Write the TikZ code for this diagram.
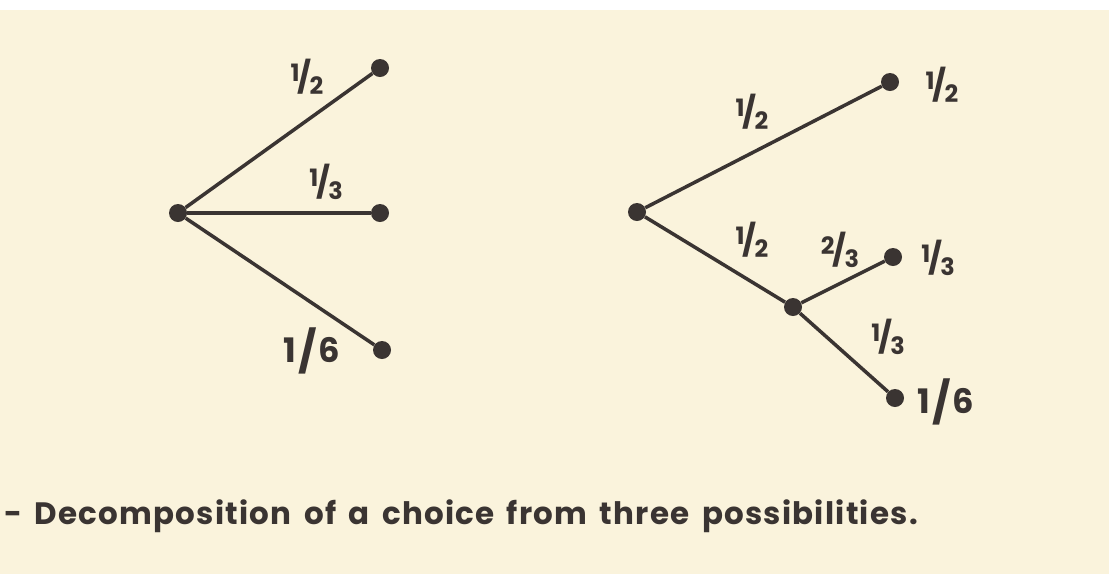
\documentclass[tikz,border=0pt]{standalone}
\usepackage{fontspec}
\setmainfont{Poppins}
\newfontfamily\capfont[LetterSpace=4,WordSpace=1.6]{Poppins}
\definecolor{paper}{RGB}{250,243,220}
\definecolor{ink}{RGB}{58,52,50}
\newcommand{\frc}[2]{\raisebox{0.4ex}{\fontsize{17}{17}\selectfont#1}\kern-0.06em{\fontsize{22}{22}\selectfont/}\kern-0.06em\raisebox{-0.3ex}{\fontsize{17}{17}\selectfont#2}}
\newcommand{\sixth}{1\kern1.5pt\raisebox{-0.2ex}{\fontsize{29}{29}\selectfont/}\kern1.5pt6}
\tikzset{
  dot/.style={circle,fill=ink,inner sep=0pt,minimum size=0.45cm},
  branch/.style={ink,line width=2.5pt},
  prob/.style={text=ink,font=\bfseries\fontsize{24}{24}\selectfont,inner sep=0pt}
}
\begin{document}
\begin{tikzpicture}[x=0.025cm,y=-0.025cm]
\fill[paper] (0,0) rectangle (1109,574);
\fill[white] (0,0) rectangle (1109,10);
\useasboundingbox (0,0) rectangle (1109,574);
% one choice from three
\node[dot] (l0) at (178,213) {};
\node[dot] (l1) at (380,68) {};
\node[dot] (l2) at (380,213) {};
\node[dot] (l3) at (382,350) {};
\draw[branch] (l0) -- (l1);
\draw[branch] (l0) -- (l2);
\draw[branch] (l0) -- (l3);
\node[prob] (lp1) at (307,77) {\frc{1}{2}};
\node[prob] (lp2) at (326,182) {\frc{1}{3}};
\node[prob] (lp3) at (312,351) {\sixth};
% same choice in two steps
\node[dot] (r0) at (637,212) {};
\node[dot] (r1) at (890,82) {};
\node[dot] (rm) at (793,307) {};
\node[dot] (r2) at (893,257) {};
\node[dot] (r3) at (895,398) {};
\draw[branch] (r0) -- (r1);
\draw[branch] (r0) -- (rm);
\draw[branch] (rm) -- (r2);
\draw[branch] (rm) -- (r3);
\node[prob] (rq1) at (752,112) {\frc{1}{2}};
\node[prob] (rq2) at (752,240) {\frc{1}{2}};
\node[prob] (rq3) at (840,250) {\frc{2}{3}};
\node[prob] (rq4) at (888,337) {\frc{1}{3}};
\node[prob] (rp1) at (942,85) {\frc{1}{2}};
\node[prob] (rp2) at (938,258) {\frc{1}{3}};
\node[prob,anchor=west] (rp3) at (917,402) {\sixth};
\node[prob,anchor=west,font=\capfont\bfseries\fontsize{22}{22}\selectfont] (cap) at (4,516) {- Decomposition of a choice from three possibilities.};
\end{tikzpicture}
\end{document}
